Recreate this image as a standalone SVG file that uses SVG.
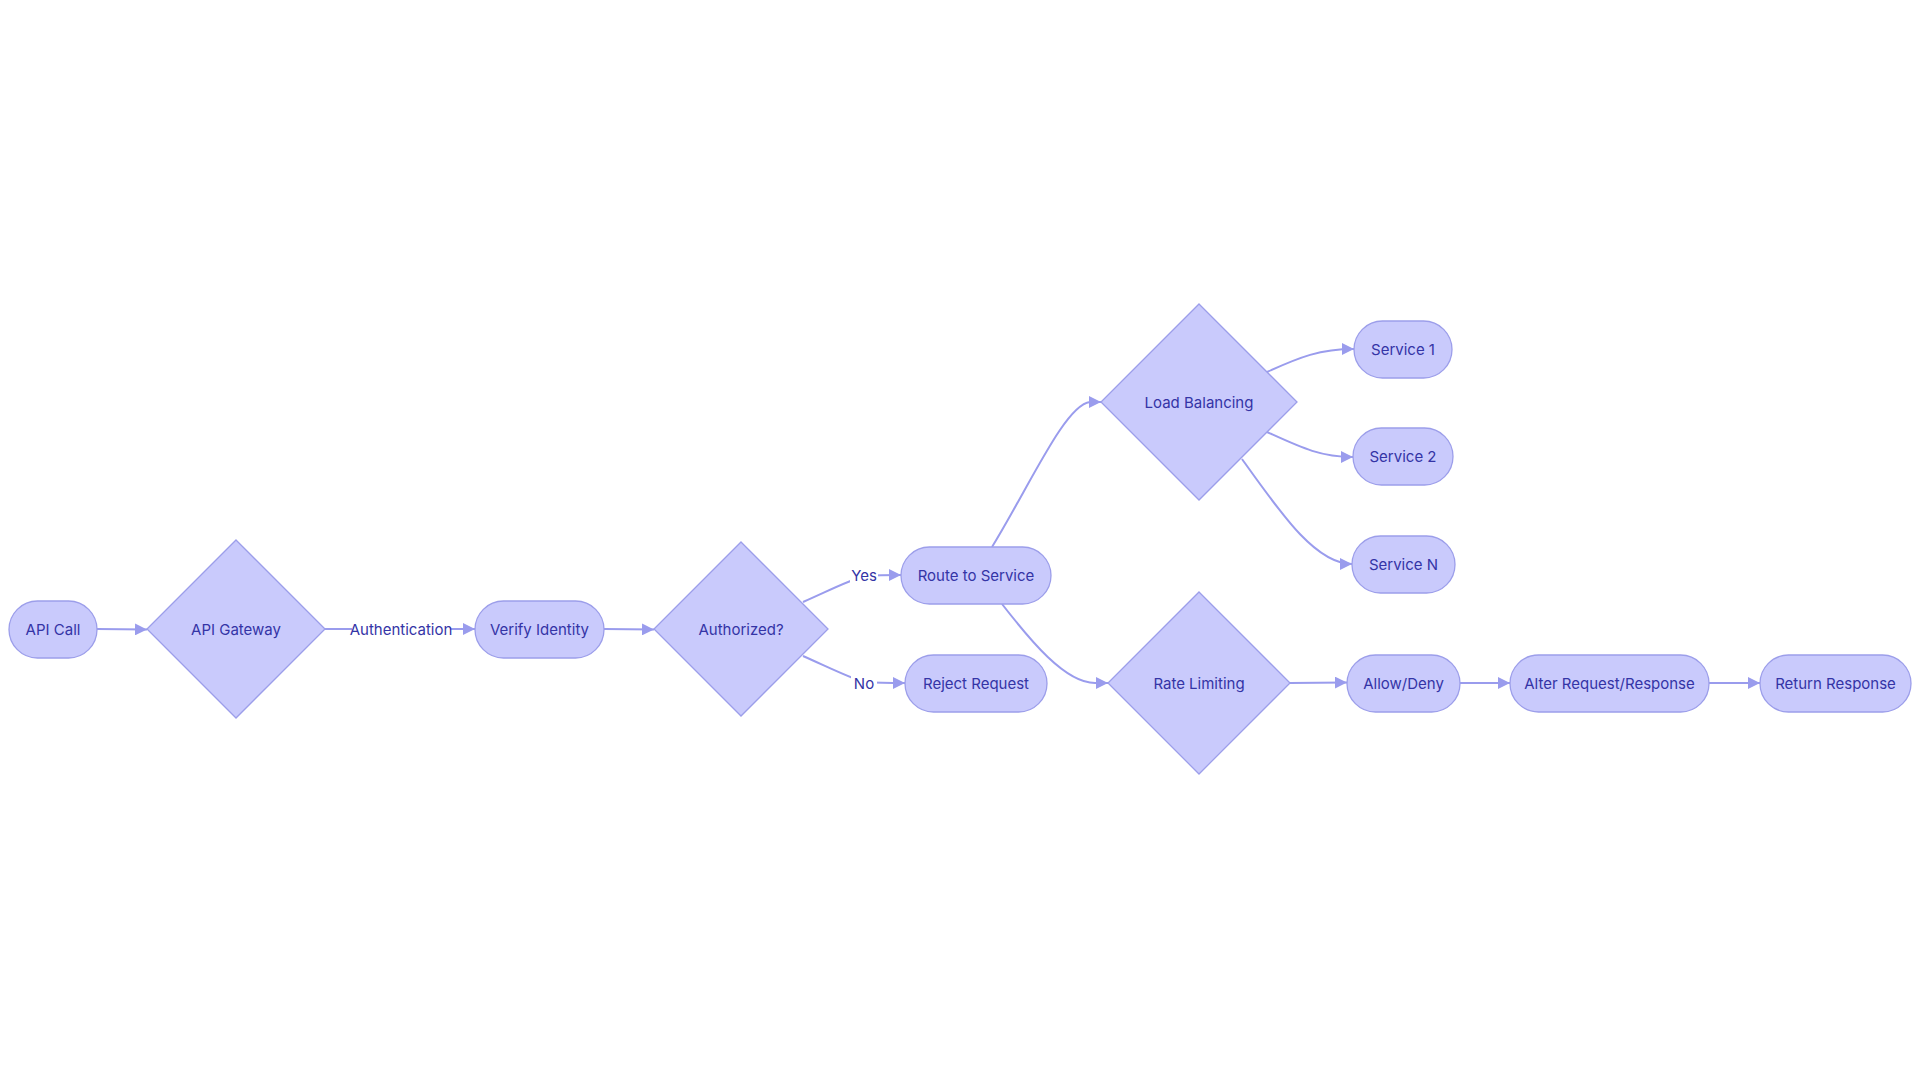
<svg xmlns="http://www.w3.org/2000/svg" width="1920" height="1080" viewBox="0 0 1920 1080">
<style>
.n{fill:#c9cafc;stroke:#9c9eea;stroke-width:1.3}
.t{font-family:Inter,"Open Sans",sans-serif;font-size:15px;fill:#3434a6;text-anchor:middle;dominant-baseline:central}
.e{fill:none;stroke:#9a9ced;stroke-width:2}
.lb{fill:#ffffff}
</style>
<defs><marker id="a" viewBox="0 0 12 12" refX="12" refY="6" markerWidth="12" markerHeight="12" markerUnits="userSpaceOnUse" orient="auto"><path d="M0,0L12,6L0,12z" fill="#9a9ced"/></marker></defs>
<rect width="1920" height="1080" fill="#fff"/>
<g id="connectors">
<path class="e" marker-end="url(#a)" d="M97,629L147,629.5"/>
<path class="e" marker-end="url(#a)" d="M325,629L475,629"/>
<path class="e" marker-end="url(#a)" d="M604,629L654,629.5"/>
<path class="e" marker-end="url(#a)" d="M803,602C830,590 850,580 864,576C880,575 890,575 901,575"/>
<path class="e" marker-end="url(#a)" d="M803,656C830,668 850,678 864,682C880,683 890,683 905,683"/>
<path class="e" marker-end="url(#a)" d="M992,547C1030,485 1065,405 1090,402L1101,402"/>
<path class="e" marker-end="url(#a)" d="M1002,604C1030,640 1065,683 1095,683L1108,683"/>
<path class="e" marker-end="url(#a)" d="M1267,372C1300,357 1320,349 1354,349"/>
<path class="e" marker-end="url(#a)" d="M1267,432C1300,447 1320,457 1353,457"/>
<path class="e" marker-end="url(#a)" d="M1242,459C1280,512 1315,564 1352,564"/>
<path class="e" marker-end="url(#a)" d="M1290,683L1347,682.5"/>
<path class="e" marker-end="url(#a)" d="M1460,683L1510,683"/>
<path class="e" marker-end="url(#a)" d="M1709,683L1760,683"/>
<rect class="lb" x="352" y="619" width="98" height="20"/><text class="t" x="401" y="629">Authentication</text>
<rect class="lb" x="850" y="565" width="28" height="20"/><text class="t" x="864" y="575">Yes</text>
<rect class="lb" x="851" y="673" width="26" height="20"/><text class="t" x="864" y="683">No</text>
</g>
<g id="api-call"><rect class="n" x="9" y="601" width="88" height="57" rx="28.5"/><text class="t" x="53" y="629.5">API Call</text></g>
<g id="api-gateway"><polygon class="n" points="236,540 325,629 236,718 147,629"/><text class="t" x="236" y="629.5">API Gateway</text></g>
<g id="verify-identity"><rect class="n" x="475" y="601" width="129" height="57" rx="28.5"/><text class="t" x="539.5" y="629.5">Verify Identity</text></g>
<g id="authorized"><polygon class="n" points="741,542 828,629 741,716 654,629"/><text class="t" x="741" y="629.5">Authorized?</text></g>
<g id="route"><rect class="n" x="901" y="547" width="150" height="57" rx="28.5"/><text class="t" x="976" y="575.5">Route to Service</text></g>
<g id="reject"><rect class="n" x="905" y="655" width="142" height="57" rx="28.5"/><text class="t" x="976" y="683.5">Reject Request</text></g>
<g id="load-balancing"><polygon class="n" points="1199,304 1297,402 1199,500 1101,402"/><text class="t" x="1199" y="402.5">Load Balancing</text></g>
<g id="rate-limiting"><polygon class="n" points="1199,592 1290,683 1199,774 1108,683"/><text class="t" x="1199" y="683.5">Rate Limiting</text></g>
<g id="service1"><rect class="n" x="1354" y="321" width="98" height="57" rx="28.5"/><text class="t" x="1403" y="349.5">Service 1</text></g>
<g id="service2"><rect class="n" x="1353" y="428" width="100" height="57" rx="28.5"/><text class="t" x="1403" y="456.5">Service 2</text></g>
<g id="serviceN"><rect class="n" x="1352" y="536" width="103" height="57" rx="28.5"/><text class="t" x="1403.5" y="564.5">Service N</text></g>
<g id="allow-deny"><rect class="n" x="1347" y="655" width="113" height="57" rx="28.5"/><text class="t" x="1403.5" y="683.5">Allow/Deny</text></g>
<g id="alter"><rect class="n" x="1510" y="655" width="199" height="57" rx="28.5"/><text class="t" x="1609.5" y="683.5">Alter Request/Response</text></g>
<g id="return"><rect class="n" x="1760" y="655" width="151" height="57" rx="28.5"/><text class="t" x="1835.5" y="683.5">Return Response</text></g>
</svg>
